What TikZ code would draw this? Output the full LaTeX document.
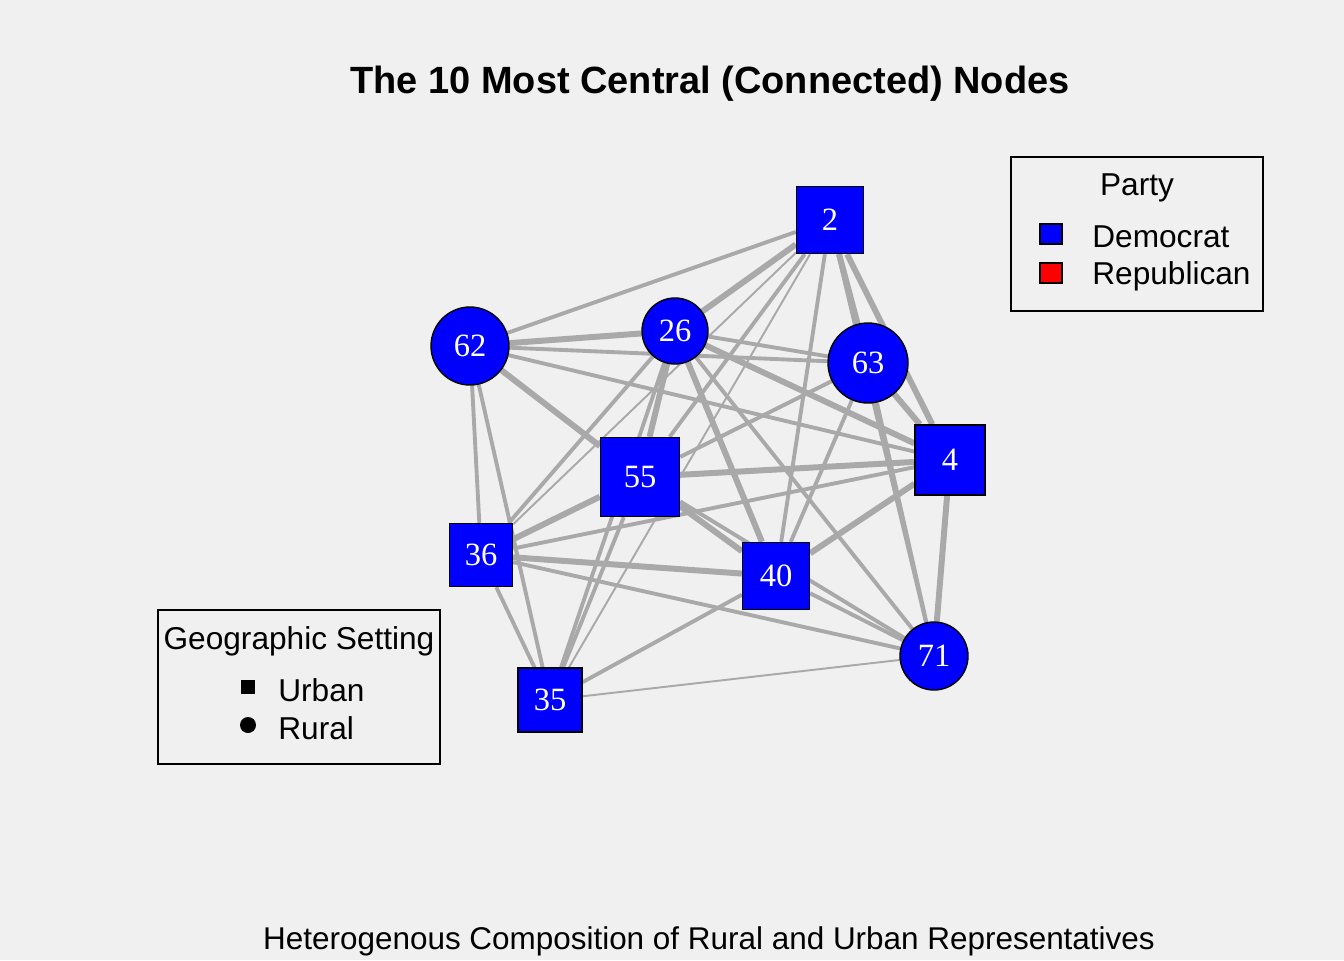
\documentclass[tikz,border=0pt]{standalone}
\usepackage{fontspec}
\setmainfont{Liberation Serif}
\setsansfont{Liberation Sans}
\usepackage{xcolor}
\usepackage{tikz}
\usetikzlibrary{positioning}
\usetikzlibrary{backgrounds}

\definecolor{bgcol}{RGB}{240,240,240}
\definecolor{edgecol}{RGB}{169,169,169}
\definecolor{demblue}{RGB}{0,0,255}
\definecolor{repred}{RGB}{255,0,0}

\begin{document}
\begin{tikzpicture}[x=0.02cm,y=-0.02cm,
  urban/.style={draw=black,line width=0.8pt,fill=demblue,text=white,rectangle,inner sep=0pt,font=\fontsize{18.5}{18.5}\selectfont},
  rural/.style={draw=black,line width=0.8pt,fill=demblue,text=white,circle,inner sep=0pt,font=\fontsize{18.5}{18.5}\selectfont},
  thin edge/.style={draw=edgecol,line width=1.1pt},
  mid edge/.style={draw=edgecol,line width=2.2pt},
  wide edge/.style={draw=edgecol,line width=3.4pt},
  legend/.style={draw=black,line width=0.8pt},
  legtext/.style={font=\sffamily\fontsize{18}{18}\selectfont,anchor=west,inner sep=0pt}]
\useasboundingbox (0,0) rectangle (1344,960);

% title and caption
\node[font=\sffamily\bfseries\fontsize{21.6}{22}\selectfont] (title) at (710,84) {The 10 Most Central (Connected) Nodes};
\node[font=\sffamily\fontsize{17.9}{18}\selectfont] (caption) at (709,941) {Heterogenous Composition of Rural and Urban Representatives};

% the ten nodes
\node[urban,minimum size=1.34cm] (n2)  at (830,220) {2};
\node[rural,minimum size=1.56cm] (n62) at (470,346) {62};
\node[rural,minimum size=1.32cm] (n26) at (675,331) {26};
\node[rural,minimum size=1.60cm] (n63) at (868,363) {63};
\node[urban,minimum size=1.40cm] (n4)  at (950,460) {4};
\node[urban,minimum size=1.58cm] (n55) at (640,477) {55};
\node[urban,minimum size=1.26cm] (n36) at (481,555) {36};
\node[urban,minimum size=1.34cm] (n40) at (776,576) {40};
\node[rural,minimum size=1.36cm] (n71) at (934,656) {71};
\node[urban,minimum size=1.28cm] (n35) at (550,700) {35};

\begin{pgfonlayer}{background}
\fill[bgcol] (0,0) rectangle (1344,960);
\path (n2)  edge [mid edge]  (n62)
      (n2)  edge [wide edge] (n26)
      (n2)  edge [wide edge] (n63)
      (n2)  edge [wide edge] (n4)
      (n2)  edge [mid edge]  (n55)
      (n2)  edge [thin edge] (n36)
      (n2)  edge [mid edge]  (n40)
      (n2)  edge [mid edge]  (n71)
      (n2)  edge [thin edge] (n35)
      (n62) edge [wide edge] (n26)
      (n62) edge [mid edge]  (n63)
      (n62) edge [mid edge]  (n4)
      (n62) edge [wide edge] (n55)
      (n62) edge [mid edge]  (n36)
      (n62) edge [thin edge] (n40)
      (n62) edge [mid edge]  (n35)
      (n26) edge [mid edge]  (n63)
      (n26) edge [wide edge] (n4)
      (n26) edge [wide edge] (n55)
      (n26) edge [mid edge]  (n36)
      (n26) edge [wide edge] (n40)
      (n26) edge [mid edge]  (n71)
      (n26) edge [mid edge]  (n35)
      (n63) edge [wide edge] (n4)
      (n63) edge [mid edge]  (n55)
      (n63) edge [mid edge]  (n40)
      (n63) edge [mid edge]  (n71)
      (n4)  edge [wide edge] (n55)
      (n4)  edge [mid edge]  (n36)
      (n4)  edge [wide edge] (n40)
      (n4)  edge [wide edge] (n71)
      (n55) edge [wide edge] (n36)
      (n55) edge [wide edge] (n40)
      (n55) edge [mid edge]  (n35)
      (n55) edge [mid edge]  (n71)
      (n36) edge [wide edge] (n40)
      (n36) edge [mid edge]  (n71)
      (n36) edge [mid edge]  (n35)
      (n40) edge [mid edge]  (n71)
      (n40) edge [mid edge]  (n35)
      (n71) edge [thin edge] (n35);
\end{pgfonlayer}

% party legend
\node[legend,minimum width=5.04cm,minimum height=3.08cm] (partybox) at (1137,234) {};
\node[font=\sffamily\fontsize{18}{18}\selectfont] (partytitle) at (1137,188) {Party};
\node[draw=black,line width=0.8pt,fill=demblue,minimum width=0.44cm,minimum height=0.40cm,inner sep=0pt] (demkey) at (1051,234) {};
\node[draw=black,line width=0.8pt,fill=repred,minimum width=0.44cm,minimum height=0.40cm,inner sep=0pt] (repkey) at (1051,273) {};
\node[legtext] (demlab) at (1092,237) {Democrat};
\node[legtext] (replab) at (1092,276) {Republican};

% geography legend
\node[legend,minimum width=5.64cm,minimum height=3.08cm] (geobox) at (299,687) {};
\node[font=\sffamily\fontsize{18}{18}\selectfont] (geotitle) at (299,641) {Geographic Setting};
\node[fill=black,minimum size=0.28cm,inner sep=0pt] (urbkey) at (248,687) {};
\node[fill=black,circle,minimum size=0.32cm,inner sep=0pt] (rurkey) at (248,725) {};
\node[legtext] (urblab) at (278,690) {Urban};
\node[legtext] (rurlab) at (278,728) {Rural};
\end{tikzpicture}
\end{document}
